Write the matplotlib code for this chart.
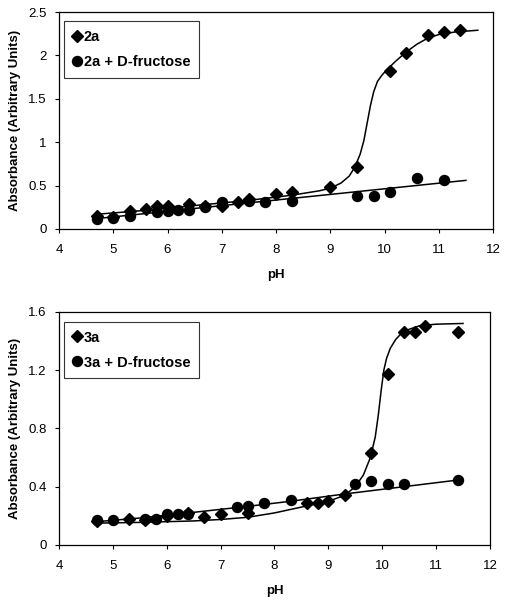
import matplotlib.pyplot as plt

plt.rcParams['font.family'] = ['Liberation Sans', 'DejaVu Sans']

# ---- top panel: 2a ----
ph_2a = [4.7, 5.0, 5.3, 5.6, 5.8, 6.0, 6.4, 6.7, 7.0, 7.3, 7.5, 8.0, 8.3, 9.0, 9.5, 10.1, 10.4, 10.8, 11.1, 11.4]
abs_2a = [0.15, 0.14, 0.21, 0.23, 0.27, 0.27, 0.29, 0.27, 0.27, 0.31, 0.34, 0.40, 0.43, 0.48, 0.71, 1.82, 2.03, 2.24, 2.27, 2.29]
ph_2a_fru = [4.7, 5.0, 5.3, 5.8, 6.0, 6.2, 6.4, 6.7, 7.0, 7.5, 7.8, 8.3, 9.5, 9.8, 10.1, 10.6, 11.1]
abs_2a_fru = [0.11, 0.13, 0.15, 0.20, 0.21, 0.22, 0.22, 0.25, 0.31, 0.32, 0.31, 0.32, 0.38, 0.38, 0.43, 0.59, 0.56]

# fitted curves
fit_ph_2a = [4.7, 5.5, 6.5, 7.5, 8.3, 8.8, 9.0, 9.2, 9.35, 9.45, 9.55, 9.62, 9.68, 9.74, 9.8, 9.87, 9.95, 10.05, 10.2, 10.4, 10.6, 10.8, 11.0, 11.3, 11.72]
fit_abs_2a = [0.17, 0.21, 0.27, 0.33, 0.39, 0.44, 0.47, 0.53, 0.61, 0.71, 0.86, 1.02, 1.22, 1.42, 1.58, 1.70, 1.77, 1.84, 1.93, 2.04, 2.13, 2.20, 2.24, 2.27, 2.29]
fit_ph_2a_fru = [4.7, 11.5]
fit_abs_2a_fru = [0.12, 0.56]

# ---- bottom panel: 3a ----
ph_3a = [4.7, 5.3, 5.6, 6.0, 6.4, 6.7, 7.0, 7.5, 8.6, 8.8, 9.0, 9.3, 9.8, 10.1, 10.4, 10.6, 10.8, 11.4]
abs_3a = [0.165, 0.18, 0.17, 0.20, 0.22, 0.19, 0.21, 0.22, 0.285, 0.285, 0.30, 0.34, 0.63, 1.17, 1.46, 1.46, 1.50, 1.46]
ph_3a_fru = [4.7, 5.0, 5.6, 5.8, 6.0, 6.2, 6.4, 7.3, 7.5, 7.8, 8.3, 9.5, 9.8, 10.1, 10.4, 11.4]
abs_3a_fru = [0.17, 0.17, 0.18, 0.18, 0.21, 0.21, 0.21, 0.26, 0.27, 0.29, 0.31, 0.42, 0.44, 0.42, 0.42, 0.445]

fit_ph_3a = [4.7, 5.5, 6.5, 7.0, 7.5, 8.0, 8.5, 9.0, 9.3, 9.5, 9.65, 9.78, 9.87, 9.93, 9.98, 10.03, 10.08, 10.15, 10.25, 10.35, 10.5, 10.7, 11.0, 11.5]
fit_abs_3a = [0.15, 0.155, 0.165, 0.175, 0.19, 0.22, 0.26, 0.30, 0.34, 0.40, 0.48, 0.60, 0.74, 0.90, 1.06, 1.20, 1.28, 1.35, 1.41, 1.45, 1.48, 1.505, 1.515, 1.52]
fit_ph_3a_fru = [4.7, 5.5, 6.4, 7.5, 8.3, 9.3, 10.4, 11.5]
fit_abs_3a_fru = [0.16, 0.185, 0.22, 0.265, 0.30, 0.35, 0.40, 0.45]

fig = plt.figure(figsize=(5.07, 6.01), dpi=100)
ax1 = fig.add_axes([0.1164, 0.619, 0.856, 0.361])
ax2 = fig.add_axes([0.1164, 0.0932, 0.850, 0.388])


def draw_panel(ax, ph, ab, ph_f, ab_f, fx, fy, fxf, fyf, name, ymax, yticks, ylabels):
    ax.plot(fx, fy, color='black', lw=1.1, zorder=2)
    ax.plot(fxf, fyf, color='black', lw=1.1, zorder=2)
    ax.plot(ph, ab, 'D', color='black', ms=6.5, zorder=3, label=name)
    ax.plot(ph_f, ab_f, 'o', color='black', ms=7.2, zorder=3, label=name + ' + D-fructose')
    ax.set_xlim(4, 12)
    ax.set_ylim(0, ymax)
    ax.set_xticks(range(4, 13))
    ax.set_yticks(yticks)
    ax.set_yticklabels(ylabels)
    ax.tick_params(direction='out', length=3, width=0.8, labelsize=9.5, pad=6)
    ax.tick_params(axis='x', pad=8)
    for s in ax.spines.values():
        s.set_linewidth(0.9)
    ax.set_xlabel('pH', fontsize=9.5, fontweight='bold', labelpad=9)
    ax.set_ylabel('Absorbance (Arbitrary Units)', fontsize=9.5, fontweight='bold', labelpad=5)
    leg = ax.legend(loc='upper left', bbox_to_anchor=(0.012, 0.957), frameon=True, fancybox=False,
                    edgecolor='black', handlelength=0.6, handletextpad=0.15, borderpad=0.6,
                    labelspacing=0.75, borderaxespad=0, prop={'weight': 'bold', 'size': 10.5})
    leg.get_frame().set_linewidth(0.8)


draw_panel(ax1, ph_2a, abs_2a, ph_2a_fru, abs_2a_fru, fit_ph_2a, fit_abs_2a,
           fit_ph_2a_fru, fit_abs_2a_fru, '2a', 2.5,
           [0, 0.5, 1, 1.5, 2, 2.5], ['0', '0.5', '1', '1.5', '2', '2.5'])
draw_panel(ax2, ph_3a, abs_3a, ph_3a_fru, abs_3a_fru, fit_ph_3a, fit_abs_3a,
           fit_ph_3a_fru, fit_abs_3a_fru, '3a', 1.6,
           [0, 0.4, 0.8, 1.2, 1.6], ['0', '0.4', '0.8', '1.2', '1.6'])

fig.savefig('out.png', dpi=100)
